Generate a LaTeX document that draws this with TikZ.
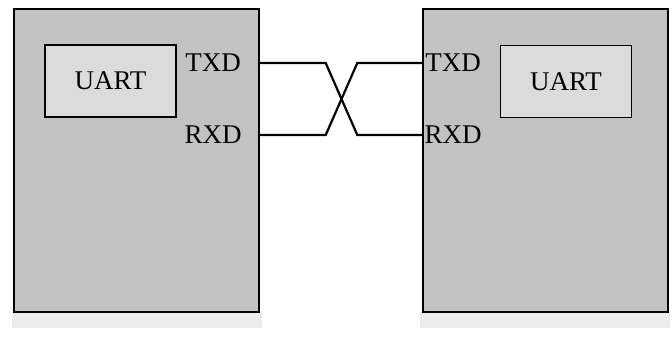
\documentclass[tikz,border=0pt]{standalone}
\usepackage{fontspec}
\setmainfont{Liberation Serif}
\usepackage{tikz}
\usetikzlibrary{positioning,calc}

\begin{document}
\begin{tikzpicture}[x=0.5pt,y=-0.5pt,
  dev/.style={draw,line width=0.7pt,fill=gray!48,minimum width=122.5pt,minimum height=151.5pt,inner sep=0pt},
  uart/.style={draw,line width=0.6pt,fill=gray!28,minimum width=65.5pt,minimum height=36pt,inner sep=0pt,font=\fontsize{13.5}{15}\selectfont},
  pin/.style={inner sep=0pt,font=\fontsize{13.5}{15}\selectfont},
  wire/.style={line width=1.1pt}]
\useasboundingbox (0,0) rectangle (672,339);
\fill[gray!15] (12,312) rectangle (262,328);
\fill[gray!15] (420,312) rectangle (670,328);
\node[dev] (leftdev) at (136.5,160.5) {};
\node[dev] (rightdev) at (545.5,160.5) {};
\node[uart] (luart) at (110.5,81) {UART};
\node[uart] (ruart) at (566,81.5) {UART};
\node[pin] (ltxd) at (213,63) {TXD};
\node[pin] (lrxd) at (213,135) {RXD};
\node[pin] (rtxd) at (453,63) {TXD};
\node[pin] (rrxd) at (453,135) {RXD};
% crossed lines
\draw[wire] (leftdev.east |- ltxd) -- ++(66,0) -- ($(rightdev.west |- rrxd)+(-65,0)$) -- (rightdev.west |- rrxd);
\draw[wire] (leftdev.east |- lrxd) -- ++(66,0) -- ($(rightdev.west |- rtxd)+(-65,0)$) -- (rightdev.west |- rtxd);
\end{tikzpicture}
\end{document}
